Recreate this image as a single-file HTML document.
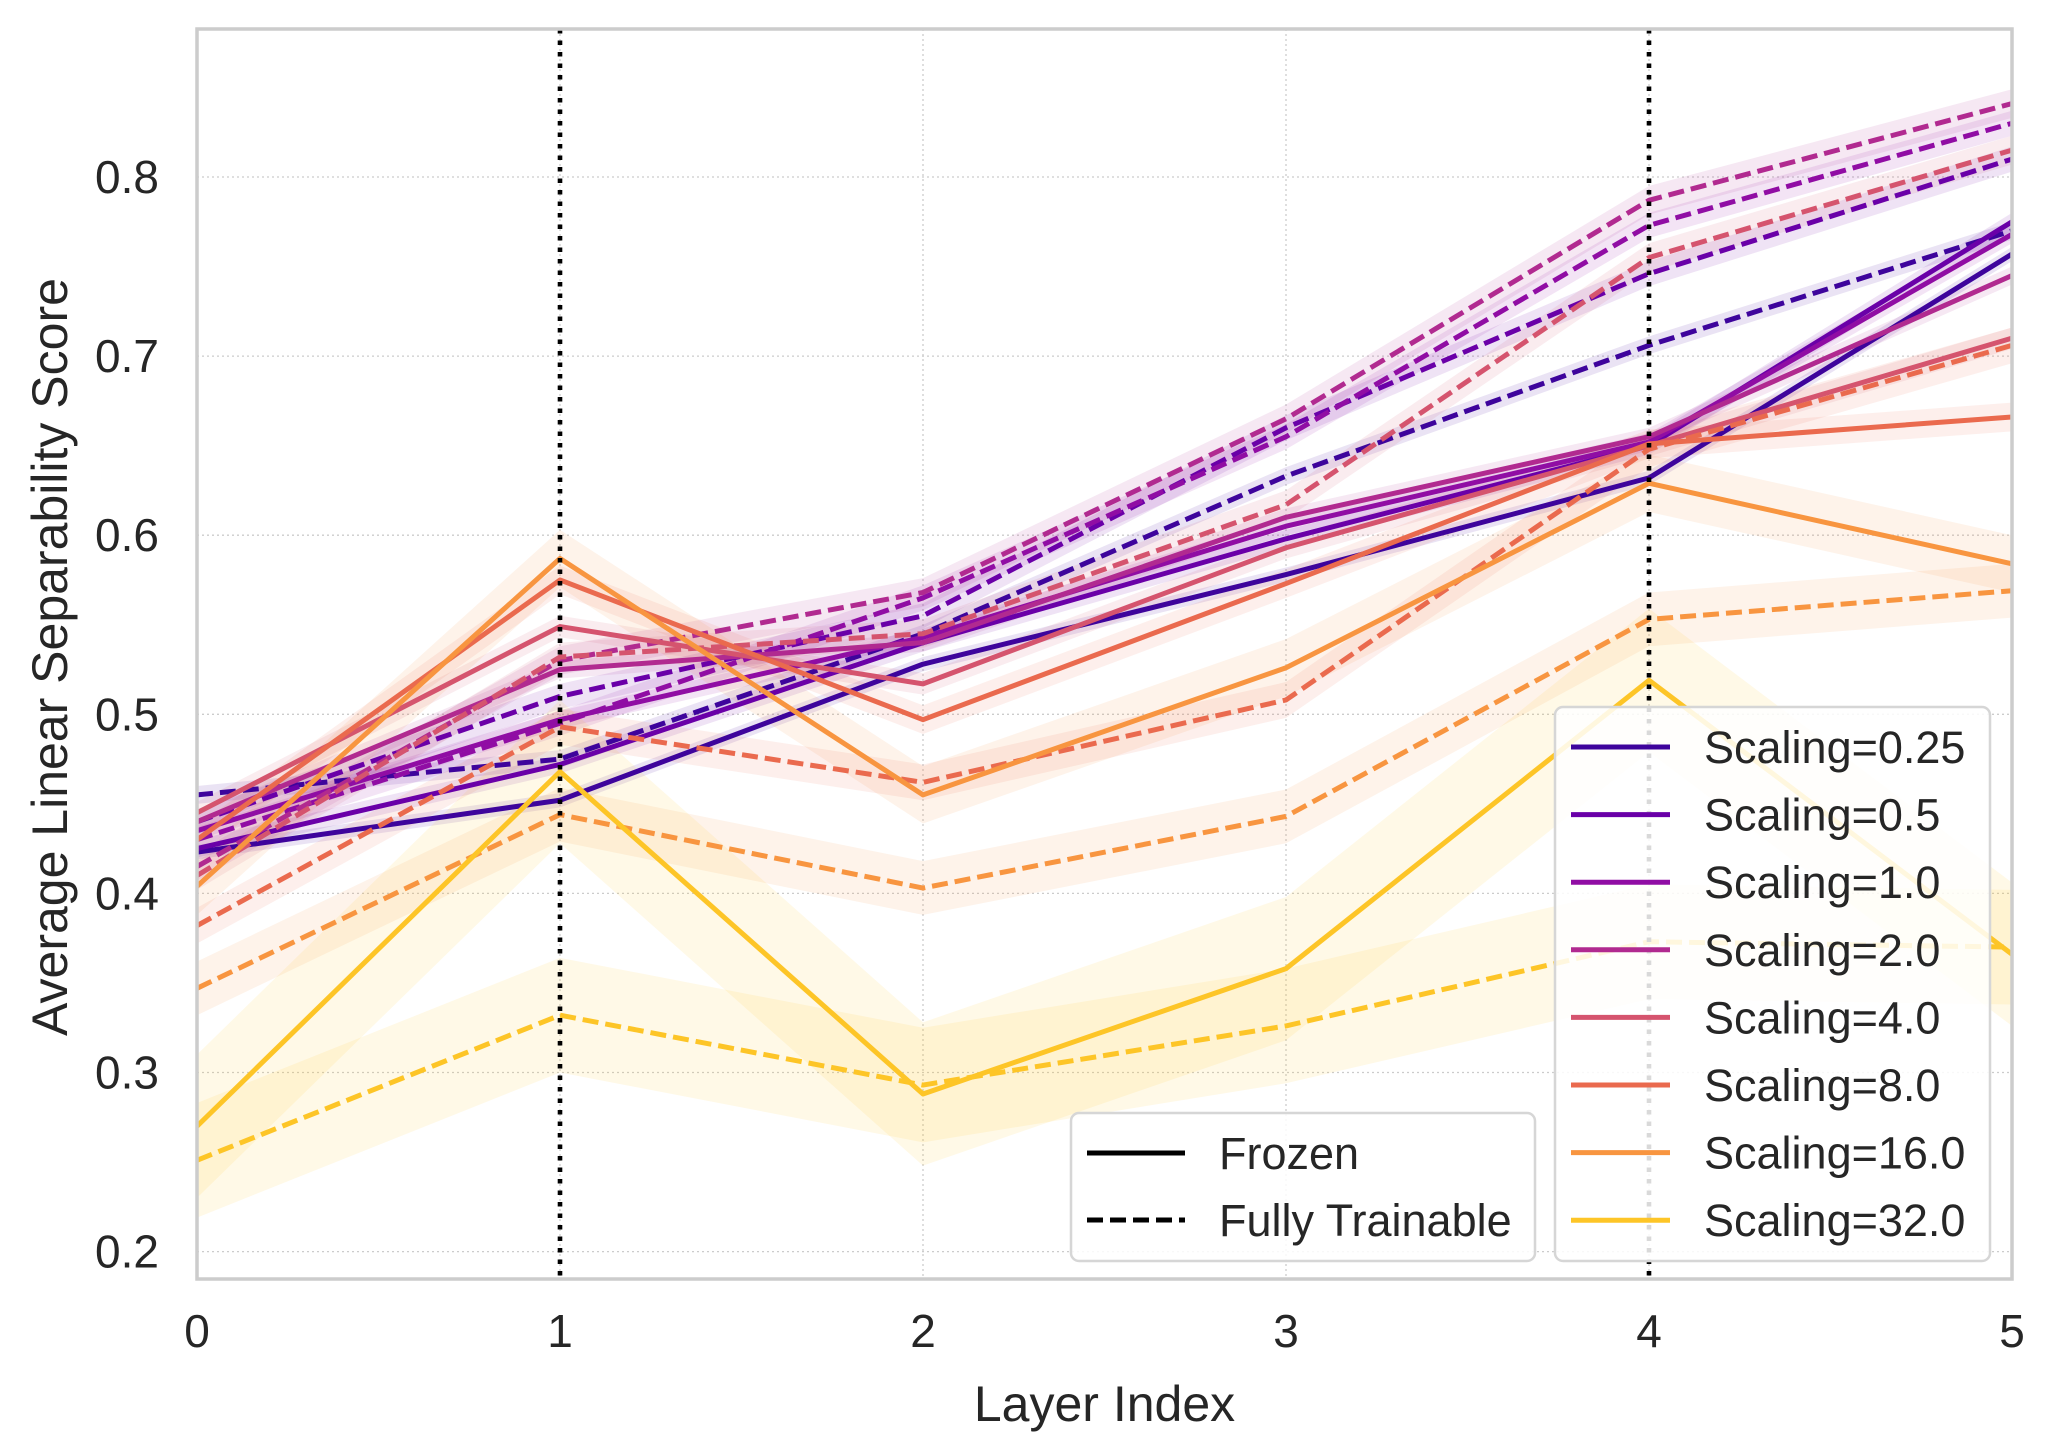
<!DOCTYPE html>
<html><head><meta charset="utf-8">
<style>
html,body{margin:0;padding:0;background:#fff;}
svg{display:block;font-family:"Liberation Sans",sans-serif;}
</style></head>
<body>
<svg id="chart" width="2053" height="1454" viewBox="0 0 2053 1454"></svg>
<script>
const layers = [0,1,2,3,4,5];
const scalingLabels = ["Scaling=0.25","Scaling=0.5","Scaling=1.0","Scaling=2.0","Scaling=4.0","Scaling=8.0","Scaling=16.0","Scaling=32.0"];
const frozenValues = [
 [0.423,0.452,0.528,0.578,0.632,0.757],
 [0.425,0.472,0.540,0.598,0.650,0.775],
 [0.435,0.497,0.543,0.605,0.652,0.768],
 [0.440,0.525,0.540,0.610,0.655,0.745],
 [0.445,0.549,0.517,0.593,0.650,0.710],
 [0.430,0.575,0.497,0.573,0.651,0.666],
 [0.404,0.587,0.455,0.526,0.629,0.584],
 [0.270,0.468,0.288,0.358,0.519,0.366]
];
const trainableValues = [
 [0.455,0.475,0.545,0.633,0.706,0.770],
 [0.440,0.510,0.555,0.660,0.746,0.810],
 [0.430,0.495,0.565,0.655,0.773,0.830],
 [0.415,0.530,0.568,0.665,0.787,0.841],
 [0.410,0.532,0.545,0.617,0.755,0.815],
 [0.382,0.493,0.462,0.508,0.648,0.706],
 [0.347,0.444,0.403,0.443,0.553,0.569],
 [0.251,0.332,0.293,0.326,0.373,0.370]
];
const frozenStd = [0.004,0.005,0.005,0.005,0.006,0.008,0.016,0.040];
const trainableStd = [0.005,0.007,0.007,0.008,0.008,0.010,0.015,0.032];
const yTicks = [0.2,0.3,0.4,0.5,0.6,0.7,0.8];
const xTicks = [0,1,2,3,4,5];
const markerLayers = [1,4];
const colors = ["#3e049c","#6a00a8","#900da4","#b12a90","#d5546e","#ea6a4e","#f89540","#fdc527"];

const NS="http://www.w3.org/2000/svg";
const svg=document.getElementById('chart');
const L=197,R=2012,T=29,B=1279;
const xs=v=>L+v*(R-L)/5;
const ys=v=>177+(0.8-v)*1791;
function mk(tag,attrs,parent){const e=document.createElementNS(NS,tag);for(const k in attrs)e.setAttribute(k,attrs[k]);(parent||svg).appendChild(e);return e;}

const defs=mk('defs',{});
const cp=mk('clipPath',{id:'clip'},defs);
mk('rect',{x:L,y:T,width:R-L,height:B-T},cp);

yTicks.forEach(t=>{
 const g=mk('line',{x1:L,x2:R,y1:ys(t),y2:ys(t),stroke:'#cccccc','stroke-width':1.3,'stroke-dasharray':'2,3'});
 
 
 const tx=mk('text',{x:L-38,y:ys(t)+16,'text-anchor':'end','font-size':46,fill:'#262626'});
 tx.textContent=t.toFixed(1);
 
 
});
xTicks.forEach(t=>{
 const g=mk('line',{x1:xs(t),x2:xs(t),y1:T,y2:B,stroke:'#cccccc','stroke-width':1.3,'stroke-dasharray':'2,3'});
 
 
 const tx=mk('text',{x:xs(t),y:B+68,'text-anchor':'middle','font-size':46,fill:'#262626'});
 tx.textContent=String(t);
 
 
});

const plot=mk('g',{'clip-path':'url(#clip)'});



function band(vals,sd,color){
 let d='';
 vals.forEach((v,i)=>{d+=(i?'L':'M')+xs(layers[i])+','+ys(v+sd);});
 for(let i=vals.length-1;i>=0;i--){d+='L'+xs(layers[i])+','+ys(vals[i]-sd);}
 return mk('path',{d:d+'Z',fill:color,'fill-opacity':0.11,stroke:'none'},plot);
}
function line(vals,color,dashed){
 const pts=vals.map((v,i)=>xs(layers[i])+','+ys(v)).join(' ');
 const a={points:pts,fill:'none',stroke:color,'stroke-width':5,'stroke-linejoin':'round'};
 if(dashed)a['stroke-dasharray']='16,7';
 return mk('polyline',a,plot);
}
colors.forEach((c,i)=>{
 const b1=band(frozenValues[i],frozenStd[i],c);
 
 
 const b2=band(trainableValues[i],trainableStd[i],c);
 
 
});
colors.forEach((c,i)=>{
 const l1=line(frozenValues[i],c,false);
 
 
 const l2=line(trainableValues[i],c,true);
 
 
});
markerLayers.forEach(m=>{
 const v=mk('line',{x1:xs(m),x2:xs(m),y1:T,y2:B,stroke:'#000','stroke-width':4.6,'stroke-dasharray':'4.5,7'});
 
 
});

const fr=mk('rect',{x:L,y:T,width:R-L,height:B-T,fill:'none',stroke:'#cccccc','stroke-width':3.5});



const xl=mk('text',{x:(L+R)/2,y:1421,'text-anchor':'middle','font-size':50,fill:'#262626'});
xl.textContent='Layer Index';


const yl=mk('text',{x:0,y:0,'text-anchor':'middle','font-size':50,fill:'#262626',transform:'translate(67,657) rotate(-90)'});
yl.textContent='Average Linear Separability Score';



const lg1=mk('g',{});


mk('rect',{x:1071,y:1113,width:464,height:148,rx:8,fill:'#fff','fill-opacity':0.85,stroke:'#d6d6d6','stroke-width':2.5},lg1);
[['Frozen',null],['Fully Trainable','16,7']].forEach((e,i)=>{
 const y=1153+i*67;
 const a={x1:1087,x2:1185,y1:y,y2:y,stroke:'#000','stroke-width':5};
 if(e[1])a['stroke-dasharray']=e[1];
 mk('line',a,lg1);
 const t=mk('text',{x:1219,y:y+16,'font-size':45,fill:'#262626'},lg1);
 t.textContent=e[0];
 
 
});
const lg2=mk('g',{});


mk('rect',{x:1555,y:707,width:435,height:554,rx:8,fill:'#fff','fill-opacity':0.85,stroke:'#d6d6d6','stroke-width':2.5},lg2);
scalingLabels.forEach((s,i)=>{
 const y=747+i*67.6;
 mk('line',{x1:1571,x2:1670,y1:y,y2:y,stroke:colors[i],'stroke-width':5},lg2);
 const t=mk('text',{x:1704,y:y+16,'font-size':45,fill:'#262626'},lg2);
 t.textContent=s;
 
 
});
</script>
</body></html>
